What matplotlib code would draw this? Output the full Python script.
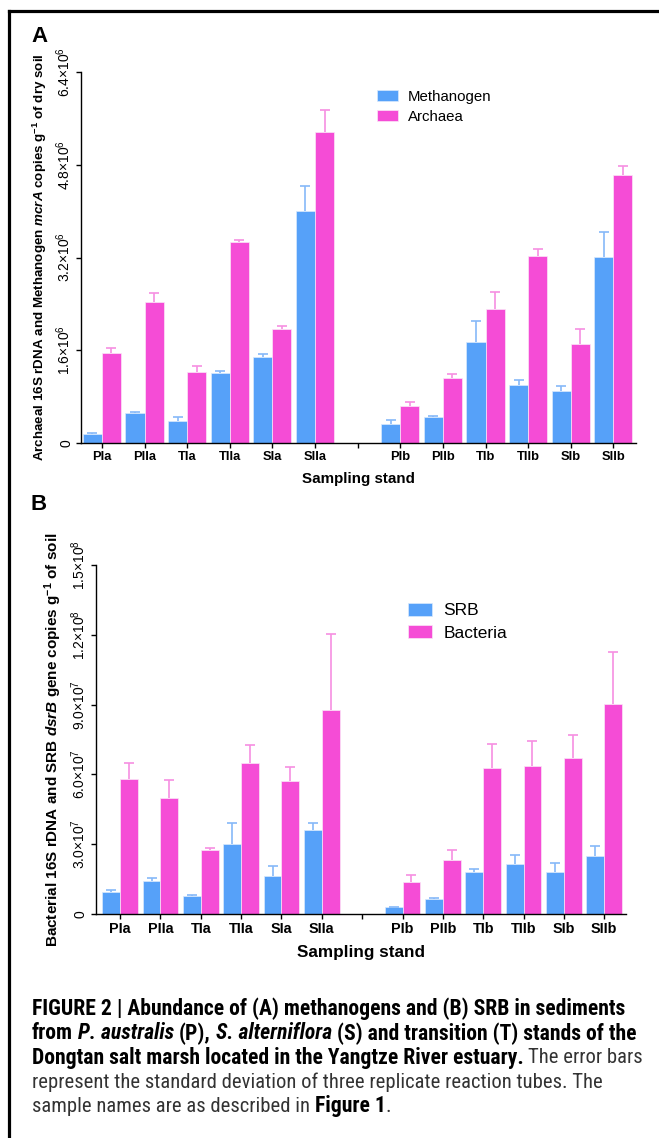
import matplotlib
matplotlib.use('Agg')
import matplotlib.pyplot as plt
import numpy as np
from matplotlib import font_manager
from matplotlib.lines import Line2D

plt.rcParams['font.family'] = ['Liberation Sans', 'DejaVu Sans']
plt.rcParams['mathtext.fontset'] = 'custom'
plt.rcParams['mathtext.rm'] = 'Liberation Sans'
plt.rcParams['mathtext.it'] = 'Liberation Sans:italic:bold'
plt.rcParams['mathtext.bf'] = 'Liberation Sans:bold'

stands = ['PIa', 'PIIa', 'TIa', 'TIIa', 'SIa', 'SIIa', '',
          'PIb', 'PIIb', 'TIb', 'TIIb', 'SIb', 'SIIb']

# panel A, copies g-1 dry soil (x10^6)
methanogen = [0.16, 0.51, 0.38, 1.20, 1.48, 4.00, 0.33, 0.45, 1.75, 1.00, 0.89, 3.21]
methanogen_sd = [0.01, 0.03, 0.075, 0.05, 0.05, 0.43, 0.065, 0.02, 0.36, 0.08, 0.10, 0.43]
archaea = [1.56, 2.44, 1.22, 3.47, 1.97, 5.36, 0.63, 1.12, 2.31, 3.22, 1.70, 4.63]
archaea_sd = [0.08, 0.145, 0.10, 0.04, 0.04, 0.38, 0.075, 0.065, 0.30, 0.125, 0.27, 0.14]
ticks_a = [0, 1.6, 3.2, 4.8, 6.4]
ticklabels_a = ['0', '1.6×10$^{6}$', '3.2×10$^{6}$', '4.8×10$^{6}$', '6.4×10$^{6}$']

# panel B, gene copies g-1 soil (x10^7)
srb = [0.93, 1.43, 0.79, 3.01, 1.65, 3.60, 0.29, 0.65, 1.79, 2.14, 1.80, 2.50]
srb_sd = [0.09, 0.12, 0.02, 0.92, 0.41, 0.30, 0.01, 0.02, 0.14, 0.40, 0.39, 0.41]
bacteria = [5.79, 4.97, 2.75, 6.48, 5.73, 8.77, 1.39, 2.32, 6.26, 6.37, 6.70, 9.01]
bacteria_sd = [0.69, 0.80, 0.07, 0.77, 0.60, 3.26, 0.27, 0.42, 1.03, 1.07, 0.99, 2.26]
ticks_b = [0, 3, 6, 9, 12, 15]
ticklabels_b = ['0', '3.0×10$^{7}$', '6.0×10$^{7}$', '9.0×10$^{7}$', '1.2×10$^{8}$', '1.5×10$^{8}$']

BLUE, PINK = '#56a1f9', '#f54cd6'
BLUE_ERR, PINK_ERR = '#86b9f8', '#f68fe2'

W, H = 659, 1138
fig = plt.figure(figsize=(W / 100, H / 100), dpi=100)


def px_axes(l, t, r, b):
    return fig.add_axes([l / W, 1 - b / H, (r - l) / W, (b - t) / H])


def draw_panel(ax, s1, e1, s2, e2, names, width, ticks, ticklabels, xlim,
               ylabel, ylabel_size, tick_size, label_size, legend_size, legend_pos):
    pos = np.array([i for i, c in enumerate(stands) if c])
    for vals, errs, off, col, ecol, name in [(s1, e1, -width / 2, BLUE, BLUE_ERR, names[0]),
                                              (s2, e2, width / 2, PINK, PINK_ERR, names[1])]:
        ax.bar(pos + off, vals, width, color=col, edgecolor='#fbe6f7' if col == PINK else '#d9e9fd',
               linewidth=0.5, label=name, zorder=2)
        eb = ax.errorbar(pos + off, vals, yerr=[np.zeros(len(errs)), errs], fmt='none',
                         ecolor=ecol, elinewidth=1.2, capsize=3.6, capthick=1.2, zorder=3)
        eb[1][0].set_visible(False)
    ax.set_xlim(*xlim)
    ax.set_ylim(0, ticks[-1])
    ax.set_xticks(range(len(stands)))
    ax.set_xticklabels(stands, fontweight='bold', fontsize=tick_size)
    ax.set_yticks(ticks)
    ax.set_yticklabels(ticklabels, rotation=90, va='center', fontsize=10)
    for s in ['top', 'right']:
        ax.spines[s].set_visible(False)
    for s in ['left', 'bottom']:
        ax.spines[s].set_linewidth(1.0)
    ax.tick_params(length=3.5, width=1.0, pad=2)
    ax.set_xlabel('Sampling stand', fontweight='bold', fontsize=label_size, labelpad=7)
    ax.set_ylabel(ylabel, fontweight='bold', fontsize=ylabel_size, labelpad=4)
    ax.legend(loc='upper left', bbox_to_anchor=(legend_pos[0] / W, 1 - legend_pos[1] / H),
              bbox_transform=fig.transFigure, frameon=False, fontsize=legend_size,
              handlelength=1.4, handleheight=0.75, handletextpad=0.65, labelspacing=0.4,
              borderpad=0, borderaxespad=0)


ax1 = px_axes(81, 72, 636, 443)
draw_panel(ax1, methanogen, methanogen_sd, archaea, archaea_sd, ['Methanogen', 'Archaea'],
           0.447, ticks_a, ticklabels_a, (-0.49, 12.53),
           'Archaeal 16S rDNA and Methanogen $\\mathit{mcrA}$ copies g$^{\\mathbf{-1}}$ of dry soil',
           9.6, 9.3, 10.9, 10.8, (377, 90))

ax2 = px_axes(95.5, 565, 626, 914)
draw_panel(ax2, srb, srb_sd, bacteria, bacteria_sd, ['SRB', 'Bacteria'],
           0.44, ticks_b, ticklabels_b, (-0.61, 12.54),
           'Bacterial 16S rDNA and SRB $\\mathit{dsrB}$ gene copies g$^{\\mathbf{-1}}$ of soil',
           11.0, 10.4, 12.3, 12.5, (408, 603))

fig.text(31 / W, 1 - 36 / H, 'A', fontsize=16, fontweight='bold', va='center')
fig.text(31 / W, 1 - 504 / H, 'B', fontsize=16, fontweight='bold', va='center')

# frame lines (top and left only)
fig.add_artist(Line2D([8.5 / W, 1], [1 - 10.5 / H, 1 - 10.5 / H], color='black', lw=2.3))
fig.add_artist(Line2D([8.5 / W, 8.5 / W], [1 - 10.5 / H, 0], color='black', lw=2.3))

# caption in narrow font when available
cap_font = 'Liberation Sans'
for name in ['Liberation Sans Narrow', 'Roboto Condensed', 'DejaVu Sans Condensed']:
    try:
        font_manager.findfont(font_manager.FontProperties(family=name), fallback_to_default=False)
        cap_font = name
        break
    except ValueError:
        pass

caption = [
    [('FIGURE 2 | Abundance of (A) methanogens and (B) SRB in sediments', 'b')],
    [('from', 'b'), (' P. australis', 'bi'), (' (P),', 'b'), (' S. alterniflora', 'bi'),
     (' (S) and transition (T) stands of the', 'b')],
    [('Dongtan salt marsh located in the Yangtze River estuary.', 'b'), (' The error bars', 'r')],
    [('represent the standard deviation of three replicate reaction tubes. The', 'r')],
    [('sample names are as described in', 'r'), (' Figure 1', 'b'), ('.', 'r')],
]
renderer = fig.canvas.get_renderer()


def text_width(s, **kw):
    t = fig.text(0, 0, s, **kw)
    w = t.get_window_extent(renderer).width
    t.remove()
    return w


for i, line in enumerate(caption):
    x = 32
    y = 1009 + i * 24.3
    for s, style in line:
        kw = dict(fontsize=15.6 if 'b' in style else 14.9, family=cap_font,
                  fontweight='bold' if 'b' in style else 'normal',
                  fontstyle='italic' if 'i' in style else 'normal',
                  color='black' if 'b' in style else '#333333')
        lead = len(s) - len(s.lstrip(' '))
        s = s.lstrip(' ')
        if lead:
            x += text_width('a a', **kw) - text_width('aa', **kw)
        t = fig.text(x / W, 1 - y / H, s, va='center', ha='left', **kw)
        x += t.get_window_extent(renderer).width

fig.savefig('out.png', dpi=100)
